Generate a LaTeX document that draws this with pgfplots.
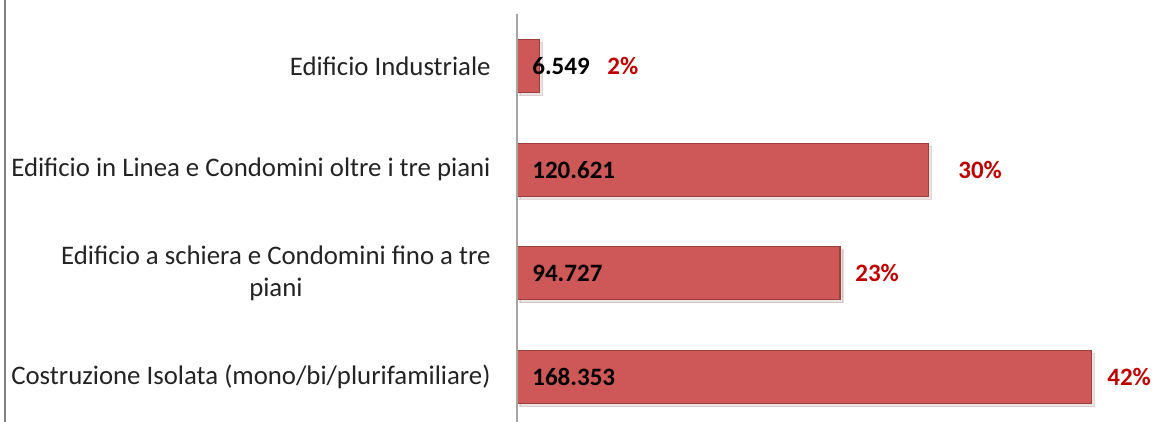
\documentclass[border=0pt]{standalone}
\usepackage{pgfplots}
\pgfplotsset{compat=1.18}
\usepackage{fontspec}
\setmainfont{Carlito}
\usetikzlibrary{shadows}
\definecolor{barfill}{RGB}{205,88,87}
\definecolor{baredge}{RGB}{160,62,60}
\definecolor{pctred}{RGB}{192,0,0}
\definecolor{txt}{RGB}{35,35,35}
\begin{document}
\begin{tikzpicture}
\begin{axis}[
  name=ax,
  scale only axis,
  width=317.5pt, height=211pt,
  xmin=0, xmax=186.2,
  ymin=-0.434, ymax=3.637,
  bar width=26.5pt,
  clip=false,
  axis line style={draw=none},
  xtick=\empty,
  ytick={0,1,2,3},
  yticklabels={{Costruzione Isolata (mono/bi/plurifamiliare)},{Edificio a schiera e Condomini fino a tre\\piani},{Edificio in Linea e Condomini oltre i tre piani},{Edificio Industriale}},
  major tick length=0pt,
  y tick label style={font=\fontsize{13.4}{16}\selectfont, anchor=east, inner sep=0pt, align=center, xshift=-13pt, text=txt},
]
\addplot[xbar, bar shift=0pt, fill=barfill, draw=baredge, line width=0.6pt,
  drop shadow={opacity=0.2, shadow xshift=1.5pt, shadow yshift=-1.5pt}]
  coordinates {(168.353,0) (94.727,1) (120.621,2) (6.549,3)};
\addplot[only marks, mark=none, nodes near coords, point meta=explicit symbolic,
  nodes near coords style={anchor=west, inner sep=0pt, xshift=7.5pt, font=\fontsize{12.5}{15}\selectfont\bfseries, text=black}]
  coordinates {(0,0)[168.353] (0,1)[94.727] (0,2)[120.621] (0,3)[6.549]};
\addplot[only marks, mark=none, nodes near coords, point meta=explicit symbolic,
  nodes near coords style={anchor=west, inner sep=0pt, font=\fontsize{12.5}{15}\selectfont\bfseries, text=pctred}]
  coordinates {(173.0,0)[42\%] (99.1,1)[23\%] (129.3,2)[30\%] (26.4,3)[2\%]};
\draw[color={rgb,255:red,165;green,165;blue,165}, line width=0.6pt] (rel axis cs:0,0) -- (rel axis cs:0,0.967);
\draw[color={rgb,255:red,130;green,130;blue,130}, line width=1pt] ([xshift=-256pt]rel axis cs:0,0) -- ([xshift=-256pt]rel axis cs:0,1);
\end{axis}
\pgfresetboundingbox
\path[use as bounding box] ([xshift=-258.5pt]ax.south west) rectangle (ax.north east);
\end{tikzpicture}
\end{document}
